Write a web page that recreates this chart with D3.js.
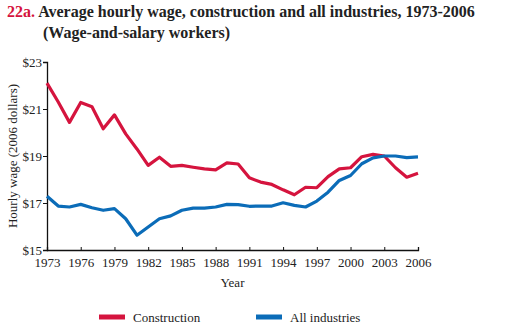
<!DOCTYPE html>
<html>
<head>
<meta charset="utf-8">
<script src="https://cdn.jsdelivr.net/npm/d3@7"></script>
<style>
  body { margin: 0; background: #fff; }
  text { font-family: "Liberation Serif", "Times New Roman", serif; }
</style>
</head>
<body>
<div id="chart"></div>
<script>
// data
var years = d3.range(1973, 2007);
var construction = [22.1, 21.3, 20.43, 21.28, 21.1, 20.16, 20.75, 19.94, 19.3, 18.6,
  18.95, 18.56, 18.6, 18.52, 18.45, 18.41, 18.71, 18.66, 18.07, 17.89,
  17.79, 17.56, 17.35, 17.67, 17.65, 18.12, 18.45, 18.5, 18.97, 19.07,
  19.0, 18.5, 18.1, 18.27];
var allIndustries = [17.29, 16.87, 16.83, 16.94, 16.8, 16.69, 16.76, 16.33, 15.63, 15.98,
  16.33, 16.45, 16.69, 16.78, 16.78, 16.83, 16.94, 16.93, 16.86, 16.87,
  16.87, 17.01, 16.9, 16.83, 17.08, 17.46, 17.96, 18.17, 18.67, 18.92,
  19.0, 19.0, 18.93, 18.96];
var xTicks = d3.range(1973, 2007, 3);
var yTicks = [15, 17, 19, 21, 23];
var seriesNames = ["Construction", "All industries"];
var colors = ["#d5143e", "#0b6cb8"];

var width = 532, height = 330;
var margin = {left: 47, right: 114, top: 62, bottom: 80};

var svg = d3.select("#chart").append("svg")
  .attr("width", width)
  .attr("height", height);

// title
var title = svg.append("text").attr("x", 7).attr("y", 17)
  .style("font-size", "16px").style("font-weight", "bold");
title.append("tspan").attr("fill", "#d5143e").text("22a. ");
title.append("tspan").attr("fill", "#222").text("Average hourly wage, construction and all industries, 1973-2006");
svg.append("text").attr("x", 43).attr("y", 38)
  .style("font-size", "16px").style("font-weight", "bold").attr("fill", "#222")
  .text("(Wage-and-salary workers)");

var x = d3.scaleLinear().domain([1973, 2006]).range([margin.left, width - margin.right]);
var y = d3.scaleLinear().domain([15, 23]).range([height - margin.bottom, margin.top]);

// axes
var xAxis = svg.append("g")
  .attr("transform", "translate(0," + (height - margin.bottom) + ")")
  .call(d3.axisBottom(x).tickValues(xTicks).tickFormat(d3.format("d")).tickSize(-3).tickPadding(8));
var yAxis = svg.append("g")
  .attr("transform", "translate(" + margin.left + ",0)")
  .call(d3.axisLeft(y).tickValues(yTicks).tickFormat(function(d) { return "$" + d; }).tickSize(4).tickPadding(1));

[xAxis, yAxis].forEach(function(a) {
  a.select(".domain").attr("stroke", "#111").attr("stroke-width", 1.3);
  a.selectAll(".tick line").attr("stroke", "#111");
  a.selectAll("text").attr("fill", "#222").style("font-size", "13px")
    .style("font-family", "'Liberation Serif', serif");
});
yAxis.selectAll("text").attr("dy", "0.35em");

svg.append("text")
  .attr("x", (x(1973) + x(2006)) / 2).attr("y", 287)
  .attr("text-anchor", "middle").attr("fill", "#222").style("font-size", "13px")
  .text("Year");
svg.append("text")
  .attr("transform", "translate(17," + ((y(15) + y(23)) / 2) + ") rotate(-90)")
  .attr("text-anchor", "middle").attr("fill", "#222").style("font-size", "13px")
  .text("Hourly wage (2006 dollars)");

// lines
var line = d3.line()
  .x(function(d, i) { return x(years[i]); })
  .y(function(d) { return y(d); });

[construction, allIndustries].forEach(function(s, k) {
  svg.append("path")
    .datum(s)
    .attr("fill", "none")
    .attr("stroke", colors[k])
    .attr("stroke-width", 3.2)
    .attr("stroke-linejoin", "round")
    .attr("d", line);
});

// legend
var legX = [99, 256];
seriesNames.forEach(function(name, k) {
  svg.append("line")
    .attr("x1", legX[k]).attr("x2", legX[k] + 26)
    .attr("y1", 317).attr("y2", 317)
    .attr("stroke", colors[k]).attr("stroke-width", 5);
  svg.append("text")
    .attr("x", legX[k] + 34).attr("y", 321.5)
    .attr("fill", "#222").style("font-size", "13px")
    .text(name);
});
</script>
</body>
</html>
